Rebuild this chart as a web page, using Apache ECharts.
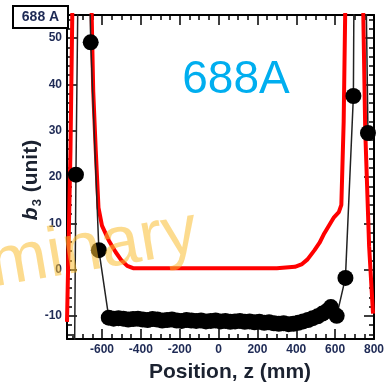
<!DOCTYPE html>
<html>
<head>
<meta charset="utf-8">
<script src="https://cdn.jsdelivr.net/npm/echarts@6/dist/echarts.min.js"></script>
<style>
html,body{margin:0;padding:0;background:#fff;}
#chart{width:387px;height:384px;}
</style>
</head>
<body>
<div id="chart"></div>
<script>
// ---- data ----
var measuredZ = [-745, -734, -700, -658, -616,
  -565, -540, -515, -490, -465, -440, -415, -390, -365, -340, -315, -290, -265, -240, -215, -190,
  -165, -140, -115, -90, -65, -40, -15, 10, 35, 60, 85, 110, 135, 160, 185, 210, 235, 260, 285,
  310, 335, 360, 385, 410, 435, 460, 485, 510, 535, 560,
  578, 608, 653, 694, 715, 769];
var measuredB3 = [-40, 20.5, 150, 49.1, 4.2,
  -10.4, -10.6, -10.5, -10.6, -10.8, -10.7, -10.6, -10.8, -10.9, -10.7, -10.8, -11.0, -10.9, -10.8, -11.0, -11.1,
  -10.9, -11.0, -11.1, -11.0, -11.2, -11.1, -11.0, -11.2, -11.1, -11.3, -11.2, -11.1, -11.3, -11.2, -11.4, -11.3, -11.5, -11.4, -11.6,
  -11.7, -11.6, -11.8, -11.7, -11.5, -11.2, -10.9, -10.5, -10.1, -9.5, -8.9,
  -8.1, -10.0, -1.8, 37.5, 200, 29.5];

var modelZ = [-780, -762, -745, -665, -645, -632, -618, -600, -565, -530, -500, -470, -440,
  -300, 0, 300, 393, 430, 458, 494, 520, 544, 594, 619, 632, 644, 660, 735, 755, 775, 795];
var modelB3 = [-11.3, 26, 80, 80, 38.5, 25.7, 13.4, 9.5, 6.3, 3.8, 2.0, 0.8, 0.3,
  0.3, 0.3, 0.3, 0.6, 1.2, 2.2, 4.2, 5.8, 7.8, 11.3, 12.4, 14, 32, 80, 80, 30, 5, -9.5];

var xMajorTicks = [-600, -400, -200, 0, 200, 400, 600, 800];
var yMajorTicks = [-10, 0, 10, 20, 30, 40, 50];

var xMin = -780, xMax = 800, yMin = -15, yMax = 55;

// minor tick positions
var xMinorTicks = [];
for (var v = -750; v <= 800; v += 50) if (xMajorTicks.indexOf(v) < 0) xMinorTicks.push(v);
var yMinorTicks = [];
for (var w = -14; w <= 54; w += 2) if (yMajorTicks.indexOf(w) < 0) yMinorTicks.push(w);

function pairs(xs, ys) { return xs.map(function (x, i) { return [x, ys[i]]; }); }

var labelColor = '#1e2a55';
var labelFont = { fontFamily: 'Liberation Sans', fontWeight: 'bold', fontSize: 12, color: labelColor };

function xAx(pos, ticks, len, showLine, showLabel) {
  return {
    type: 'value', position: pos, min: xMin, max: xMax,
    axisLine: { show: showLine, onZero: false, lineStyle: { color: '#000', width: 2 } },
    axisTick: { show: true, inside: true, length: len, customValues: ticks, lineStyle: { color: '#000', width: 1.5 } },
    axisLabel: Object.assign({ show: showLabel, margin: 5, customValues: ticks }, labelFont),
    splitLine: { show: false }
  };
}
function yAx(pos, ticks, len, showLine, showLabel) {
  return {
    type: 'value', position: pos, min: yMin, max: yMax,
    axisLine: { show: showLine, onZero: false, lineStyle: { color: '#000', width: 2 } },
    axisTick: { show: true, inside: true, length: len, customValues: ticks, lineStyle: { color: '#000', width: 1.5 } },
    axisLabel: Object.assign({ show: showLabel, margin: 5, customValues: ticks }, labelFont),
    splitLine: { show: false }
  };
}

var chart = echarts.init(document.getElementById('chart'), null, { renderer: 'canvas' });
chart.setOption({
  animation: false,
  backgroundColor: '#fff',
  grid: { left: 67, right: 6, top: 15, bottom: 45, containLabel: false },
  xAxis: [
    xAx('bottom', xMajorTicks, 10, true, true),
    xAx('bottom', xMinorTicks, 5, false, false),
    xAx('top', xMajorTicks, 10, true, false),
    xAx('top', xMinorTicks, 5, false, false)
  ],
  yAxis: [
    yAx('left', yMajorTicks, 10, true, true),
    yAx('left', yMinorTicks, 5, false, false),
    yAx('right', yMajorTicks, 10, true, false),
    yAx('right', yMinorTicks, 5, false, false)
  ],
  series: [
    {
      name: 'model', type: 'line', xAxisIndex: 0, yAxisIndex: 0,
      data: pairs(modelZ, modelB3), showSymbol: false, symbol: 'none',
      lineStyle: { color: '#ff0000', width: 4 }, clip: true, z: 2
    },
    {
      name: 'measured', type: 'line', xAxisIndex: 0, yAxisIndex: 0,
      data: pairs(measuredZ, measuredB3), symbol: 'circle', symbolSize: 16, showAllSymbol: true,
      itemStyle: { color: '#000' }, lineStyle: { color: '#222', width: 1.5 }, clip: true, z: 3
    }
  ],
  graphic: [
    {
      type: 'text', x: -4, y: 302, rotation: 0.17, z: 10,
      style: { text: 'minary', fontFamily: 'Liberation Sans', fontSize: 70, fill: 'rgba(250,190,50,0.55)', align: 'left', verticalAlign: 'bottom' }
    },
    {
      type: 'text', x: 236, y: 80, z: 10,
      style: { text: '688A', fontFamily: 'Liberation Sans', fontSize: 46, fill: '#00aeef', align: 'center', verticalAlign: 'middle' }
    },
    {
      type: 'rect', shape: { x: 13, y: 6, width: 55, height: 22 }, z: 20,
      style: { fill: '#fff', stroke: '#000', lineWidth: 2 }
    },
    {
      type: 'text', x: 40.5, y: 17.5, z: 21,
      style: { text: '688 A', fontFamily: 'Liberation Sans', fontWeight: 'bold', fontSize: 14, fill: labelColor, align: 'center', verticalAlign: 'middle' }
    },
    {
      type: 'text', x: 230, y: 372, z: 10,
      style: { text: 'Position, z (mm)', fontFamily: 'Liberation Sans', fontWeight: 'bold', fontSize: 21, fill: '#1b2230', align: 'center', verticalAlign: 'middle' }
    },
    {
      type: 'text', x: 31, y: 180, rotation: Math.PI / 2, z: 10,
      style: {
        text: '{b|b}{s|3}{n| (unit)}', align: 'center', verticalAlign: 'middle',
        rich: {
          b: { fontFamily: 'Liberation Sans', fontWeight: 'bold', fontStyle: 'italic', fontSize: 21, fill: '#1b2230', lineHeight: 24 },
          s: { fontFamily: 'Liberation Sans', fontWeight: 'bold', fontSize: 13, fill: '#1b2230', lineHeight: 24, padding: [12, 1, 0, 1] },
          n: { fontFamily: 'Liberation Sans', fontWeight: 'bold', fontSize: 21, fill: '#1b2230', lineHeight: 24 }
        }
      }
    }
  ]
});
</script>
</body>
</html>
